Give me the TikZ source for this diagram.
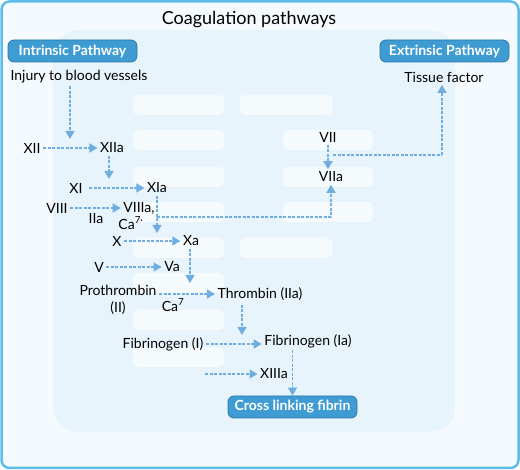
\documentclass[tikz,border=0pt]{standalone}
\usepackage{fontspec}
\setmainfont{Lato}
\usetikzlibrary{arrows.meta}
\definecolor{framec}{HTML}{5DBDE8}
\definecolor{bgc}{HTML}{F4FAFE}
\definecolor{innerc}{HTML}{E8F4FC}
\definecolor{boxfill}{HTML}{3F9CD3}
\definecolor{boxdraw}{HTML}{2B77A8}
\definecolor{arrc}{HTML}{6FAEDF}
\tikzset{
  lbl/.style={font=\fontsize{14}{15}\selectfont, inner sep=2.5pt, text=black},
  headbox/.style={rounded corners=6pt, fill=boxfill, draw=boxdraw, line width=0.8pt, text=white,
    font=\fontsize{14}{15}\selectfont\bfseries, minimum height=22pt, inner xsep=4pt},
  flow/.style={draw=arrc, line width=1.3pt, dash pattern=on 3pt off 1.5pt,
    -{Triangle[length=8pt,width=9pt]}},
  plain/.style={draw=arrc, line width=1.3pt, dash pattern=on 3pt off 1.5pt},
  ghost/.style={fill=white, fill opacity=0.6, rounded corners=5pt}
}
\begin{document}
\begin{tikzpicture}[x=1pt,y=-1pt]
\useasboundingbox (0,0) rectangle (520,470);
\draw[draw=framec, fill=bgc, line width=2.5pt, rounded corners=8pt] (1.5,1.5) rectangle (518.5,468);
\fill[innerc, rounded corners=25pt] (53,30) rectangle (455,432);
% faint background rectangles
\foreach \yy in {95,130,167,202,238,273,310,347} {\fill[ghost] (133,\yy) rectangle (224,\yy+20);}
\foreach \yy in {95,238} {\fill[ghost] (240,\yy) rectangle (332,\yy+20);}
\foreach \yy in {130,167,202} {\fill[ghost] (283,\yy) rectangle (373,\yy+20);}

\node[font=\fontsize{18}{20}\selectfont] (title) at (249,20) {Coagulation pathways};
\node[headbox, minimum width=129pt] (intr) at (72.5,51) {Intrinsic Pathway};
\node[headbox, minimum width=129pt] (extr) at (444.5,51) {Extrinsic Pathway};

\node[lbl] (injury) at (79,77) {Injury to blood vessels};
\node[lbl] (tissue) at (444,77) {Tissue factor};

\node[lbl] (xii) at (32,148) {XII};
\node[lbl] (xiia) at (112,148) {XIIa};
\node[lbl] (xi) at (76,188) {XI};
\node[lbl] (xia) at (157,188) {XIa};
\node[lbl] (viii) at (57,208) {VIII};
\node[lbl] (viiia) at (139,208) {VIIIa,};
\node[lbl] (iia) at (96,219) {IIa};
\node[lbl] (ca1) at (131,223) {Ca\textsuperscript{7·}};
\node[lbl] (x) at (117,241) {X};
\node[lbl] (xa) at (191,241) {Xa};
\node[lbl] (v) at (99,267) {V};
\node[lbl] (va) at (172,267) {Va};
\node[lbl, align=center, font=\fontsize{14}{17}\selectfont] (pro) at (118,300) {Prothrombin\\(II)};
\node[lbl] (thr) at (260,294) {Thrombin (IIa)};
\node[lbl] (ca2) at (173,305) {Ca\textsuperscript{7}};
\node[lbl] (fibi) at (163,344) {Fibrinogen (I)};
\node[lbl] (fibia) at (308,341) {Fibrinogen (Ia)};
\node[lbl] (xiiia) at (274,374) {XIIIa};
\node[headbox, minimum width=129pt] (cross) at (292.5,407) {Cross linking fibrin};
\node[lbl] (vii) at (328,137) {VII};
\node[lbl] (viia) at (331,177) {VIIa};

% junction coordinates
\coordinate (j1) at (70,139);
\coordinate (j2) at (109,179);
\coordinate (j3) at (157,233);
\coordinate (j4) at (157,217);
\coordinate (j5) at (190,283);
\coordinate (j6) at (242,335);
\coordinate (j7) at (242,305);
\coordinate (s8) at (205,374);
\coordinate (j9) at (333,155);
\coordinate (j10) at (442,155);

\draw[flow] (injury.south -| j1) -- (j1);
\draw[flow] (xii.east) -- (xiia.west);
\draw[flow] (xiia.south -| j2) -- (j2);
\draw[flow] ([xshift=4pt]xi.east) -- (xia.west);
\draw[flow] (viii.east) -- (viiia.west |- viii.east);
\draw[flow] (xia.south) -- (j3);
\draw[flow] (j4) -- (j4 -| viia.south) -- (viia.south);
\draw[flow] (x.east) -- (xa.west);
\draw[flow] (v.east) -- (va.west);
\draw[flow] (xa.south -| j5) -- (j5);
\draw[flow] ([yshift=6pt]pro.east) -- (thr.west);
\draw[flow] (j7) -- (j6);
\draw[flow] (fibi.east) -- (fibia.west |- fibi.east);
\draw[flow] (s8) -- (xiiia.west);
\draw[flow] (fibia.south -| cross.north) -- (cross.north);
\draw[flow] (vii.south) -- (vii.south |- viia.north);
\draw[plain] (j9) -- (j10);
\draw[flow] (j10) -- (tissue.south -| j10);
\end{tikzpicture}
\end{document}
